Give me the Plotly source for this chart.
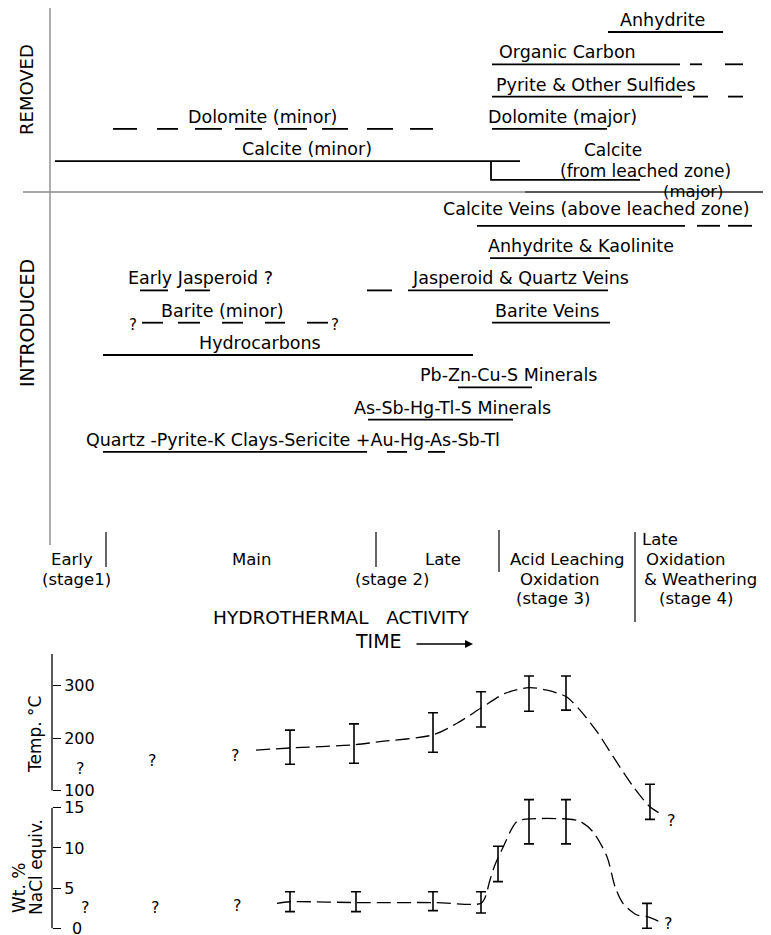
import plotly.graph_objects as go

W, H = 771, 935
OFF = 8                      # page margin of the browser body
WF, HF = W - OFF, H - OFF    # figure size so that it fits the window
FONT = "DejaVu Sans"

# ---------------- paragenetic chart data (x = relative time) ----------------
removed_labels = ["Anhydrite", "Organic Carbon", "Pyrite & Other Sulfides",
                  "Dolomite (major)", "Dolomite (minor)", "Calcite (minor)"]
removed_row = [0, 1, 2, 3, 3, 4]
removed_spans = [
    [(608, 723)],
    [(492, 680), (690, 702), (725, 743)],
    [(492, 682), (693, 708), (728, 743)],
    [(492, 607)],
    [(113, 137), (157, 178), (195, 222), (235, 262), (278, 307), (322, 348), (367, 393), (410, 433)],
    [(55, 520)],
]
calcite_leached_span = (491, 640)

introduced_labels = ["Calcite Veins (above leached zone)", "Anhydrite & Kaolinite",
                     "Early Jasperoid ?", "Jasperoid & Quartz Veins",
                     "Barite (minor)", "Barite Veins", "Hydrocarbons",
                     "Pb-Zn-Cu-S Minerals", "As-Sb-Hg-Tl-S Minerals",
                     "Quartz -Pyrite-K Clays-Sericite +Au-Hg-As-Sb-Tl"]
introduced_row = [6, 7, 8, 8, 9, 9, 10, 11, 12, 13]
introduced_spans = [
    [(477, 685), (697, 720), (728, 752)],
    [(490, 610)],
    [(140, 168), (185, 210)],
    [(367, 392), (408, 608)],
    [(142, 163), (178, 200), (222, 243), (265, 285), (307, 328)],
    [(492, 610)],
    [(103, 473)],
    [(458, 532)],
    [(368, 513)],
    [(103, 367), (387, 407), (428, 445)],
]

stage_bounds = [106, 376, 499, 635]

# ---------------- fluid inclusion data ----------------
temp_x = [290, 354, 433, 481, 529, 566, 650]
temp_mid = [181, 187, 206, 257, 295, 278, 68]
temp_hi = [215, 227, 248, 288, 318, 318, 112]
temp_lo = [150, 152, 173, 221, 251, 253, 45]
temp_curve_x = [256, 290, 354, 380, 433, 457, 481, 505, 529, 547, 566, 580, 597, 613, 633, 650, 663]
temp_curve_y = [177, 181, 187, 193, 206, 228, 257, 285, 296, 291, 279, 253, 212, 165, 108, 69, 53]

sal_x = [290, 356, 433, 481, 498, 529, 566, 647]
sal_mid = [3.3, 3.2, 3.2, 3.1, 7.7, 13.6, 13.6, 1.45]
sal_hi = [4.55, 4.55, 4.55, 4.55, 10.2, 16.0, 16.0, 3.1]
sal_lo = [2.07, 2.07, 2.2, 1.9, 5.8, 10.5, 10.5, 0.0]
sal_curve_x = [277, 290, 356, 433, 481, 485, 490, 495, 502, 517, 529, 566, 580, 593, 607, 615, 623, 637, 647, 660]
sal_curve_y = [3.1, 3.3, 3.2, 3.2, 3.1, 3.8, 6.0, 7.9, 9.8, 13.3, 13.6, 13.6, 13.3, 12.0, 8.9, 5.2, 3.1, 1.65, 1.45, 0.8]

temp_ticks = [100, 200, 300]
sal_ticks = [0, 5, 10, 15]
sal_ticktext = ["", "5", "10", "15"]   # "0" is written separately at the page edge

# ---------------- layout helpers ----------------
def py(px):
    return 1 - (px - OFF) / HF

def pxx(px):
    return (px - OFF) / WF

ROW0, ROWSTEP = 32, 32.3
TOP_BOTTOM_PX = 470
def T_of(px):
    return 200 - (px - 738) / 0.525
def S_of(px):
    return (928.3 - px) / 8.04

fig = go.Figure()
LINE = dict(color="black", width=1.8)

def add_spans(spans, row):
    xs, ys = [], []
    for a, b in spans:
        xs += [a, b, None]
        ys += [row, row, None]
    fig.add_trace(go.Scatter(x=xs, y=ys, mode="lines", line=LINE,
                             xaxis="x", yaxis="y", hoverinfo="skip"))

for spans, r in zip(removed_spans, removed_row):
    add_spans(spans, r)
for spans, r in zip(introduced_spans, introduced_row):
    add_spans(spans, r)

leach_row = 4.58
fig.add_trace(go.Scatter(x=[calcite_leached_span[0], calcite_leached_span[0], calcite_leached_span[1]],
                         y=[4, leach_row, leach_row], mode="lines", line=LINE,
                         xaxis="x", yaxis="y", hoverinfo="skip"))

# temperature
fig.add_trace(go.Scatter(x=temp_curve_x, y=temp_curve_y, mode="lines",
                         line=dict(color="black", width=1.3, dash="14px,6px", shape="spline", smoothing=0.8),
                         xaxis="x", yaxis="y2", hoverinfo="skip"))
fig.add_trace(go.Scatter(x=temp_x, y=temp_mid, mode="markers",
                         marker=dict(size=1, color="rgba(0,0,0,0)"),
                         error_y=dict(type="data", symmetric=False,
                                      array=[h - m for h, m in zip(temp_hi, temp_mid)],
                                      arrayminus=[m - l for m, l in zip(temp_mid, temp_lo)],
                                      color="black", thickness=1.6, width=5),
                         xaxis="x", yaxis="y2", hoverinfo="skip"))
# salinity
fig.add_trace(go.Scatter(x=sal_curve_x, y=sal_curve_y, mode="lines",
                         line=dict(color="black", width=1.3, dash="14px,6px", shape="spline", smoothing=0.8),
                         xaxis="x", yaxis="y3", hoverinfo="skip"))
fig.add_trace(go.Scatter(x=sal_x, y=sal_mid, mode="markers",
                         marker=dict(size=1, color="rgba(0,0,0,0)"),
                         error_y=dict(type="data", symmetric=False,
                                      array=[h - m for h, m in zip(sal_hi, sal_mid)],
                                      arrayminus=[m - l for m, l in zip(sal_mid, sal_lo)],
                                      color="black", thickness=1.6, width=5),
                         xaxis="x", yaxis="y3", hoverinfo="skip"))

ann = []
def txt(text, x, ypx, size=17, angle=0, xanchor="center"):
    ann.append(dict(text=text, x=x, y=py(ypx), xref="x", yref="paper", showarrow=False,
                    xanchor=xanchor, yanchor="middle", textangle=angle,
                    font=dict(family=FONT, size=size, color="black")))

def rowlabel(text, x, row, yshift=0, size=17.5):
    ann.append(dict(text=text, x=x, y=row, xref="x", yref="y", showarrow=False,
                    xanchor="center", yanchor="bottom", yshift=yshift,
                    font=dict(family=FONT, size=size, color="black")))

removed_label_x = [662, 567, 596, 562, 262, 307]
for t, x, r in zip(removed_labels, removed_label_x, removed_row):
    rowlabel(t, x, r)
txt("Calcite", 613, 150)
txt("(from leached zone)", 645, 171)
txt("(major)", 693, 191, 16.5)

introduced_label_x = [596, 581, 200, 520, 222, 547, 260, 508, 452, 293]
introduced_shift = [5, 0, 0, 0, 0, 0, 0, 0, 0, 0]
for t, x, r, s in zip(introduced_labels, introduced_label_x, introduced_row, introduced_shift):
    rowlabel(t, x, r, s)
txt("?", 133, 325, 15)
txt("?", 335, 325, 15)

txt("REMOVED", 27, 90, 18, -90)
txt("INTRODUCED", 27, 323, 19, -90)

# stage labels
SL = 16.5
txt("Early", 72, 559, SL)
txt("(stage1)", 76, 579, SL)
txt("Main", 251, 559, SL)
txt("Late", 443, 559, SL)
txt("(stage 2)", 392, 579, SL)
txt("Acid Leaching", 567, 559, SL)
txt("Oxidation", 560, 579, SL)
txt("(stage 3)", 553, 598, SL)
txt("Late", 660, 539, SL)
txt("Oxidation", 686, 559, SL)
txt("& Weathering", 700, 579, SL)
txt("(stage 4)", 696, 598, SL)
txt("HYDROTHERMAL   ACTIVITY", 341, 617, 18.5)
txt("TIME", 378, 641, 19)
ann.append(dict(text="", x=473, y=py(644), xref="x", yref="paper", showarrow=True,
                ax=-58, ay=0, axref="pixel", ayref="pixel", arrowhead=2, arrowsize=1,
                arrowwidth=1.6, arrowcolor="black"))

# fluid inclusion labels
txt("Temp. °C", 35, 735, 17, -90)
txt("Wt. %", 19, 888, 17, -90)
txt("NaCl equiv.", 36, 867, 17, -90)
txt("0", 70, 928, 16, 0, "left")
for x, y in [(80, 768), (152, 760), (235, 755), (671, 820)]:
    txt("?", x, y, 16)
for x, y in [(85, 907), (155, 907), (237, 905), (668, 923)]:
    txt("?", x, y, 16)

shapes = []
# left vertical line and separator
shapes.append(dict(type="line", xref="x", yref="paper", x0=50, x1=50, y0=py(8), y1=py(545),
                   line=dict(color="#777", width=1.2)))
shapes.append(dict(type="line", xref="x", yref="paper", x0=23, x1=525, y0=py(192), y1=py(192),
                   line=dict(color="#888", width=1.3)))
shapes.append(dict(type="line", xref="x", yref="paper", x0=525, x1=W, y0=py(192), y1=py(192),
                   line=dict(color="#222", width=1.3)))
stage_ext = [(532, 567), (532, 567), (530, 572), (532, 622)]
for b, (a, c) in zip(stage_bounds, stage_ext):
    shapes.append(dict(type="line", xref="x", yref="paper", x0=b, x1=b, y0=py(a), y1=py(c),
                       line=dict(color="black", width=1.2)))
# axis lines of the lower panels
shapes.append(dict(type="line", xref="x", yref="y2", x0=52, x1=52, y0=100, y1=T_of(654),
                   line=dict(color="black", width=1.3)))
shapes.append(dict(type="line", xref="x", yref="y3", x0=52, x1=52, y0=0, y1=15,
                   line=dict(color="black", width=1.3)))

axis_common = dict(anchor="free", position=pxx(52), side="right", ticks="outside", ticklen=8,
                   tickwidth=1.3, tickcolor="black", showline=False, showgrid=False,
                   zeroline=False, tickfont=dict(family=FONT, size=16, color="black"))

fig.update_layout(
    width=WF, height=HF, margin=dict(l=0, r=0, t=0, b=0),
    paper_bgcolor="white", plot_bgcolor="rgba(0,0,0,0)", showlegend=False,
    font=dict(family=FONT, color="black"),
    xaxis=dict(range=[OFF, W], domain=[0, 1], visible=False, fixedrange=True),
    yaxis=dict(domain=[py(TOP_BOTTOM_PX), 1],
               range=[(TOP_BOTTOM_PX - ROW0) / ROWSTEP, (OFF - ROW0) / ROWSTEP], visible=False),
    yaxis2=dict(domain=[py(830), py(640)], range=[T_of(830), T_of(640)],
                tickvals=temp_ticks, **axis_common),
    yaxis3=dict(domain=[0, py(795)], range=[S_of(H), S_of(795)],
                tickvals=sal_ticks, ticktext=sal_ticktext, **axis_common),
    annotations=ann, shapes=shapes,
)

fig.write_html("out.html")
